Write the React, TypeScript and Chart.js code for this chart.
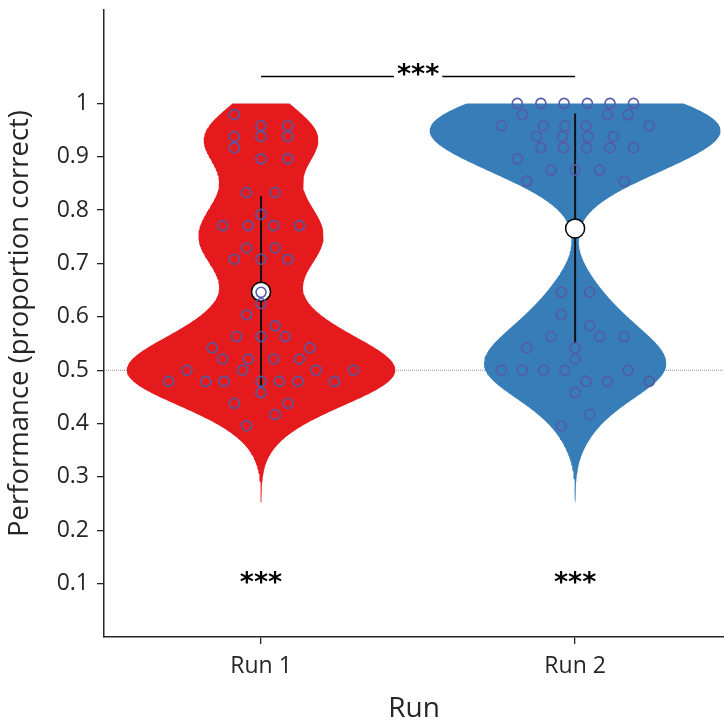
import React, { useEffect, useRef } from "react";
import { Chart, registerables } from "chart.js";

Chart.register(...registerables);

// ---- data ---------------------------------------------------------------
const CATEGORIES = ["Run 1", "Run 2"];

// proportion correct per participant (48 trials each)
const RUN1_SCORES = [
  0.979, 0.958, 0.958, 0.938, 0.938, 0.938, 0.917, 0.896, 0.896, 0.833, 0.833,
  0.792, 0.771, 0.771, 0.771, 0.771, 0.729, 0.729, 0.708, 0.708, 0.708, 0.646,
  0.625, 0.604, 0.583, 0.563, 0.563, 0.563, 0.542, 0.542, 0.521, 0.521, 0.521,
  0.521, 0.5, 0.5, 0.5, 0.5, 0.479, 0.479, 0.479, 0.479, 0.479, 0.479, 0.479,
  0.458, 0.438, 0.438, 0.417, 0.396,
];
// horizontal jitter of each participant's marker (category units)
const RUN1_JITTER = [
  -0.085, 0, 0.085, -0.085, 0, 0.085, -0.085, 0, 0.085, -0.046, 0.045,
  0, -0.122, -0.04, 0.04, 0.122, -0.046, 0.045, -0.085, 0, 0.085, 0,
  0, -0.046, 0.045, -0.078, 0, 0.077, -0.155, 0.155, -0.122, -0.04, 0.04,
  0.122, -0.236, -0.059, 0.175, 0.294, -0.294, -0.176, -0.118, 0, 0.058, 0.118,
  0.234, 0, -0.085, 0.086, 0.045, -0.046,
];

const RUN2_SCORES = [
  1, 1, 1, 1, 1, 1, 0.979, 0.979, 0.979, 0.958, 0.958, 0.958, 0.958, 0.958,
  0.938, 0.938, 0.938, 0.938, 0.917, 0.917, 0.917, 0.917, 0.917, 0.896,
  0.875, 0.875, 0.875, 0.854, 0.854, 0.646, 0.646, 0.604, 0.583, 0.563,
  0.563, 0.563, 0.542, 0.542, 0.521, 0.5, 0.5, 0.5, 0.5, 0.5, 0.479, 0.479,
  0.479, 0.458, 0.417, 0.396,
];
const RUN2_JITTER = [
  -0.184, -0.109, -0.035, 0.039, 0.111, 0.186, -0.168, 0.103, 0.169, -0.235,
  -0.101, -0.033, 0.034, 0.236, -0.122, -0.04, 0.041, 0.122, -0.109, -0.037,
  0.037, 0.111, 0.186, -0.184, -0.077, 0, 0.078, -0.154, 0.156, -0.044,
  0.046, -0.044, 0.046, -0.077, 0.078, 0.156, -0.154, 0, 0, -0.235, -0.168,
  -0.1, -0.033, 0.169, 0.034, 0.102, 0.236, 0, 0.046, -0.044,
];

const Y_TICKS = [0.1, 0.2, 0.3, 0.4, 0.5, 0.6, 0.7, 0.8, 0.9, 1];
const Y_TICK_LABELS = ["0.1", "0.2", "0.3", "0.4", "0.5", "0.6", "0.7", "0.8", "0.9", "1"];

const CHANCE_LEVEL = 0.5;
const RUN_STARS = ["***", "***"]; // each run vs. chance
const PAIR_STARS = "***"; // Run 1 vs. Run 2
const STAR_LEVEL = 0.1;
const BRACKET_LEVEL = 1.0506;

// ---- styling / density settings -----------------------------------------
const RUN_COLORS = ["#e41a1c", "#377eb8"];
const TEXT_COLOR = "#262626";
const FONT = '"Open Sans", "DejaVu Sans", sans-serif';
const BANDWIDTH = 0.048;
const CUT = 3;
const Y_CLIP = 1;
const MAX_HALF_WIDTH = 0.463;

// ---- helpers --------------------------------------------------------------
function kde(values: number[], y: number): number {
  let s = 0;
  for (const v of values) {
    const z = (y - v) / BANDWIDTH;
    s += Math.exp(-0.5 * z * z);
  }
  return s;
}

function densityProfile(values: number[]) {
  const lo = Math.min(...values) - CUT * BANDWIDTH;
  const hi = Math.min(Y_CLIP, Math.max(...values) + CUT * BANDWIDTH);
  const n = 300;
  const ys: number[] = [];
  for (let i = 0; i <= n; i++) ys.push(lo + ((hi - lo) * i) / n);
  return { ys, dens: ys.map((y) => kde(values, y)) };
}

function violinOutline(
  profile: { ys: number[]; dens: number[] },
  center: number,
  scale: number
) {
  const left = profile.ys.map((y, i) => ({ x: center - profile.dens[i] * scale, y }));
  const right = profile.ys
    .map((y, i) => ({ x: center + profile.dens[i] * scale, y }))
    .reverse();
  return [...left, ...right, left[0]];
}

function mean(a: number[]) {
  return a.reduce((s, v) => s + v, 0) / a.length;
}
function sd(a: number[]) {
  const m = mean(a);
  return Math.sqrt(a.reduce((s, v) => s + (v - m) * (v - m), 0) / (a.length - 1));
}

const starPlugin = {
  id: "significanceStars",
  afterDatasetsDraw(chart: any) {
    const { ctx, scales } = chart;
    const x = scales.x;
    const y = scales.y;
    ctx.save();
    ctx.font = 'bold 27px "DejaVu Sans", sans-serif';
    ctx.textAlign = "center";
    ctx.textBaseline = "middle";
    ctx.fillStyle = "#000";
    RUN_STARS.forEach((s, i) => {
      ctx.fillText(s, x.getPixelForValue(i + 1), y.getPixelForValue(STAR_LEVEL));
    });
    const cx = x.getPixelForValue(1.5);
    const cy = y.getPixelForValue(BRACKET_LEVEL);
    const w = ctx.measureText(PAIR_STARS).width;
    ctx.fillStyle = "#ffffff";
    ctx.fillRect(cx - w / 2 - 3, cy - 12, w + 6, 24);
    ctx.fillStyle = "#000";
    ctx.fillText(PAIR_STARS, cx, cy);
    ctx.restore();
  },
};

const noEdgePadding = (s: any) => {
  s.paddingTop = 0;
  s.paddingBottom = 0;
  s.paddingLeft = 0;
  s.paddingRight = 0;
};

export default function App() {
  const canvasRef = useRef<HTMLCanvasElement | null>(null);

  useEffect(() => {
    const canvas = canvasRef.current;
    if (!canvas) return;

    const runs = [RUN1_SCORES, RUN2_SCORES];
    const jitters = [RUN1_JITTER, RUN2_JITTER];
    const profiles = runs.map(densityProfile);
    const maxDens = Math.max(...profiles.map((p) => Math.max(...p.dens)));
    const scale = MAX_HALF_WIDTH / maxDens;

    const violinSets = profiles.map((p, i) => ({
      type: "line" as const,
      data: violinOutline(p, i + 1, scale),
      borderWidth: 0,
      borderColor: RUN_COLORS[i],
      backgroundColor: RUN_COLORS[i],
      fill: "shape",
      pointRadius: 0,
      tension: 0,
      order: 5,
    }));

    const errorSets = runs.map((r, i) => ({
      type: "line" as const,
      data: [
        { x: i + 1, y: mean(r) - sd(r) },
        { x: i + 1, y: mean(r) + sd(r) },
      ],
      borderColor: "#111111",
      borderWidth: 2,
      pointRadius: 0,
      fill: false,
      order: 3,
    }));

    const meanSet = {
      type: "scatter" as const,
      data: runs.map((r, i) => ({ x: i + 1, y: mean(r) })),
      pointRadius: 9.5,
      pointBackgroundColor: "#ffffff",
      pointBorderColor: "#000000",
      pointBorderWidth: 1.5,
      order: 2,
    };

    const pointSets = runs.map((r, i) => ({
      type: "scatter" as const,
      data: r.map((v, j) => ({ x: i + 1 + jitters[i][j], y: v })),
      pointRadius: 5,
      pointBackgroundColor: "rgba(0,0,0,0)",
      pointBorderColor: "rgba(84, 90, 166, 1)",
      pointBorderWidth: 1.6,
      order: 1,
    }));

    const chanceSet = {
      type: "line" as const,
      data: [
        { x: 0.5, y: CHANCE_LEVEL },
        { x: 2.5, y: CHANCE_LEVEL },
      ],
      borderColor: "#777777",
      borderWidth: 0.8,
      borderDash: [1, 1],
      pointRadius: 0,
      fill: false,
      order: 6,
    };

    const bracketSet = {
      type: "line" as const,
      data: [
        { x: 1, y: BRACKET_LEVEL },
        { x: 2, y: BRACKET_LEVEL },
      ],
      borderColor: "#000000",
      borderWidth: 1.5,
      pointRadius: 0,
      fill: false,
      order: 4,
    };

    const chart = new Chart(canvas, {
      type: "scatter",
      data: {
        datasets: [
          chanceSet,
          ...violinSets,
          bracketSet,
          ...errorSets,
          meanSet,
          ...pointSets,
        ] as any,
      },
      options: {
        responsive: false,
        animation: false,
        devicePixelRatio: 1,
        layout: { autoPadding: false, padding: { top: 10, left: 0, right: 0, bottom: 0 } },
        plugins: {
          legend: { display: false },
          tooltip: { enabled: false },
        },
        scales: {
          x: {
            type: "linear",
            min: 0.5,
            max: 2.474,
            afterFit: (s: any) => {
              s.height = 83;
              noEdgePadding(s);
            },
            afterBuildTicks: (s: any) => {
              s.ticks = CATEGORIES.map((_, i) => ({ value: i + 1 }));
            },
            ticks: {
              callback: (v: any) => CATEGORIES[Math.round(Number(v)) - 1] ?? "",
              color: TEXT_COLOR,
              font: { family: FONT, size: 23 },
              padding: 9,
              maxRotation: 0,
            },
            grid: {
              drawOnChartArea: false,
              drawTicks: true,
              tickLength: 7,
              color: TEXT_COLOR,
              lineWidth: 1.3,
            },
            border: { display: true, color: TEXT_COLOR, width: 1.5 },
            title: {
              display: true,
              text: "Run",
              color: TEXT_COLOR,
              font: { family: FONT, size: 28, lineHeight: 0.8 },
              padding: { top: 0, bottom: 0 },
            },
          },
          y: {
            type: "linear",
            min: 0,
            max: 1.175,
            afterFit: (s: any) => {
              s.width = 104;
              noEdgePadding(s);
            },
            afterBuildTicks: (s: any) => {
              s.ticks = Y_TICKS.map((v) => ({ value: v }));
            },
            ticks: {
              callback: (_v: any, i: number) => Y_TICK_LABELS[i],
              color: TEXT_COLOR,
              font: { family: FONT, size: 23 },
              padding: 8,
            },
            grid: {
              drawOnChartArea: false,
              drawTicks: true,
              tickLength: 7,
              color: TEXT_COLOR,
              lineWidth: 1.3,
            },
            border: { display: true, color: TEXT_COLOR, width: 1.5 },
            title: {
              display: true,
              text: "Performance (proportion correct)",
              color: TEXT_COLOR,
              font: { family: FONT, size: 27.5, lineHeight: 1.2 },
              padding: { top: 4, bottom: 4 },
            },
          },
        },
      },
      plugins: [starPlugin],
    } as any);

    return () => chart.destroy();
  }, []);

  return (
    <div style={{ position: "fixed", left: 0, top: 0, width: 724, height: 720, background: "#fff" }}>
      <canvas ref={canvasRef} width={724} height={720} />
    </div>
  );
}
